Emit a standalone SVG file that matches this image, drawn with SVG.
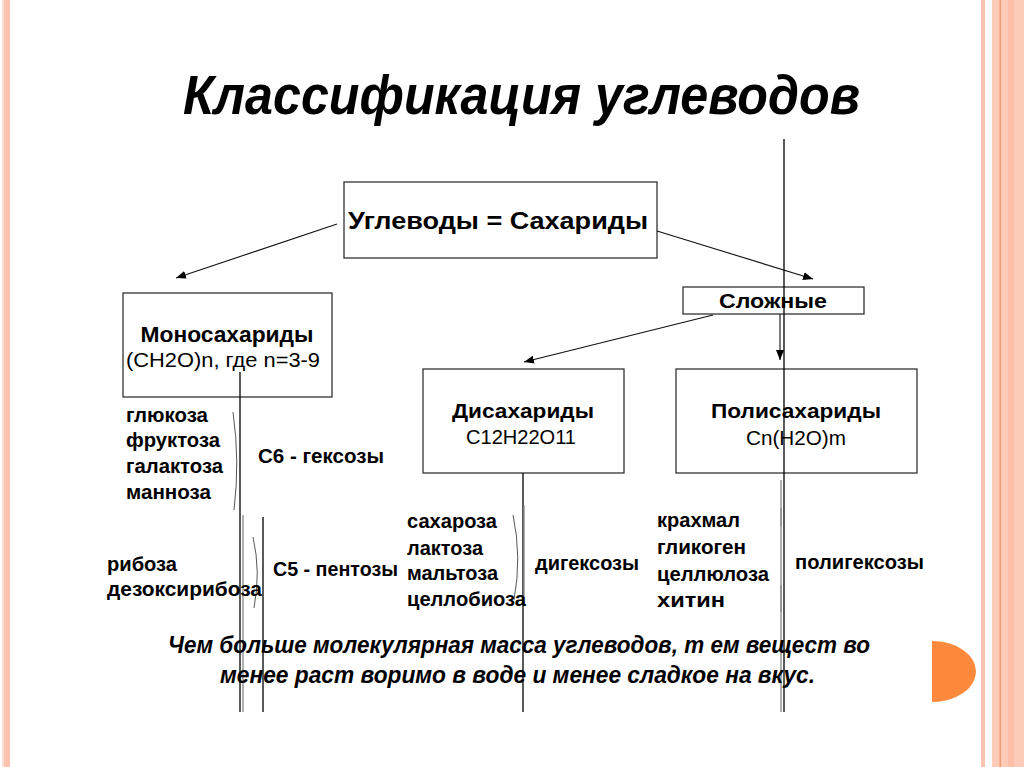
<svg xmlns="http://www.w3.org/2000/svg" width="1024" height="767" viewBox="0 0 1024 767">
<defs>
<marker id="ah" viewBox="0 0 10 10" refX="10" refY="5" markerWidth="10" markerHeight="10" markerUnits="userSpaceOnUse" orient="auto">
<path d="M0,1 L10,5 L0,9 Z" fill="#000"/>
</marker>
<style>
.box{fill:#fff;stroke:#333;stroke-width:1.3}
.t{font-family:"Liberation Sans",Arial,sans-serif;fill:#000}
.b{font-weight:bold}
.c{text-anchor:middle}
.title{font-family:"Liberation Sans",Arial,sans-serif;font-weight:bold;font-style:italic;font-size:56px}
.note{font-family:"Liberation Sans",Arial,sans-serif;font-weight:bold;font-style:italic;font-size:24px}
.arr{stroke:#111;stroke-width:1.1;fill:none;marker-end:url(#ah)}
.ln{stroke:#000;stroke-width:1.3;fill:none}
.gl{stroke:#888;stroke-width:1.3;fill:none}
.br{stroke:#444;stroke-width:0.9;fill:none}
</style>
</defs>
<rect width="1024" height="767" fill="#fff"/>
<!-- borders -->
<rect x="2" y="0" width="2" height="767" fill="#fde3da"/>
<rect x="4" y="0" width="6" height="767" fill="#fcc4b0"/>
<rect x="981" y="0" width="4" height="767" fill="#fcc4b0"/>
<rect x="992" y="0" width="32" height="767" fill="#fdccb8"/>
<rect x="999.5" y="0" width="1.5" height="767" fill="#f19a6e"/>
<rect x="1008" y="0" width="6" height="767" fill="#fcc0a8"/>
<path d="M932,641 A44,30.5 0 0 1 932,702 Z" fill="#fd8a3c"/>

<text class="title" x="183" y="114" textLength="677" lengthAdjust="spacingAndGlyphs">Классификация углеводов</text>

<g id="root">
<rect class="box" x="344" y="182" width="313" height="76"/>
<text class="t b c" x="498" y="229" font-size="24" textLength="300" lengthAdjust="spacingAndGlyphs">Углеводы = Сахариды</text>
</g>
<g id="mono">
<rect class="box" x="123" y="293" width="209" height="104"/>
<text class="t b c" x="227" y="342" font-size="22" textLength="173" lengthAdjust="spacingAndGlyphs">Моносахариды</text>
<text class="t c" x="223" y="367" font-size="21" textLength="194" lengthAdjust="spacingAndGlyphs">(CH2O)n, где n=3-9</text>
</g>
<g id="complex">
<rect class="box" x="683" y="287" width="181" height="27"/>
<text class="t b c" x="773" y="308" font-size="21" textLength="108" lengthAdjust="spacingAndGlyphs">Сложные</text>
</g>
<g id="di">
<rect class="box" x="423" y="369" width="201" height="104"/>
<text class="t b c" x="523" y="418" font-size="21" textLength="142" lengthAdjust="spacingAndGlyphs">Дисахариды</text>
<text class="t c" x="521" y="444" font-size="20" textLength="110" lengthAdjust="spacingAndGlyphs">C12H22O11</text>
</g>
<g id="poly">
<rect class="box" x="676" y="369" width="241" height="104"/>
<text class="t b c" x="796" y="418" font-size="21" textLength="170" lengthAdjust="spacingAndGlyphs">Полисахариды</text>
<text class="t c" x="796" y="445" font-size="20" textLength="100" lengthAdjust="spacingAndGlyphs">Cn(H2O)m</text>
</g>

<g id="connectors">
<line class="arr" x1="337" y1="224" x2="176" y2="278"/>
<line class="arr" x1="657" y1="231" x2="813" y2="279"/>
<line class="arr" x1="713" y1="315" x2="524" y2="362"/>
<line class="arr" x1="780" y1="314" x2="780" y2="360"/>
<!-- vertical lines -->
<line class="ln" x1="784" y1="139" x2="784" y2="712"/>
<line class="gl" x1="781" y1="480" x2="781" y2="712"/>
<line class="gl" x1="781" y1="508" x2="781" y2="526" stroke-width="2.5"/>
<line class="gl" x1="781" y1="585" x2="781" y2="612" stroke-width="2.5"/>
<line class="ln" x1="240" y1="372" x2="240" y2="712"/>
<line class="gl" x1="243" y1="515" x2="243" y2="712"/>
<line class="ln" x1="263" y1="517" x2="263" y2="712"/>
<line class="ln" x1="523" y1="473" x2="523" y2="712"/>
<line class="gl" x1="524" y1="505" x2="524" y2="605" stroke-width="2"/>
<path class="br" d="M233,412 Q240,461 234,510"/>
<path class="br" d="M253,537 Q261,572 254,608"/>
<path class="br" d="M513,515 Q522,557 514,600"/>
</g>

<g id="lists">
<text class="t b" x="126" y="422" font-size="20" textLength="82" lengthAdjust="spacingAndGlyphs">глюкоза</text>
<text class="t b" x="126" y="447" font-size="20" textLength="94" lengthAdjust="spacingAndGlyphs">фруктоза</text>
<text class="t b" x="126" y="473" font-size="20" textLength="97" lengthAdjust="spacingAndGlyphs">галактоза</text>
<text class="t b" x="126" y="499" font-size="20" textLength="85" lengthAdjust="spacingAndGlyphs">манноза</text>
<text class="t b" x="258" y="463" font-size="20" textLength="126" lengthAdjust="spacingAndGlyphs">C6 - гексозы</text>
<text class="t b" x="107" y="571" font-size="20" textLength="70" lengthAdjust="spacingAndGlyphs">рибоза</text>
<text class="t b" x="107" y="596" font-size="20" textLength="155" lengthAdjust="spacingAndGlyphs">дезоксирибоза</text>
<text class="t b" x="273" y="576" font-size="20" textLength="125" lengthAdjust="spacingAndGlyphs">C5 - пентозы</text>
<text class="t b" x="407" y="528" font-size="20" textLength="90" lengthAdjust="spacingAndGlyphs">сахароза</text>
<text class="t b" x="407" y="555" font-size="20" textLength="76" lengthAdjust="spacingAndGlyphs">лактоза</text>
<text class="t b" x="407" y="580" font-size="20" textLength="91" lengthAdjust="spacingAndGlyphs">мальтоза</text>
<text class="t b" x="407" y="606" font-size="20" textLength="119" lengthAdjust="spacingAndGlyphs">целлобиоза</text>
<text class="t b" x="535" y="570" font-size="20" textLength="104" lengthAdjust="spacingAndGlyphs">дигексозы</text>
<text class="t b" x="657" y="527" font-size="20" textLength="83" lengthAdjust="spacingAndGlyphs">крахмал</text>
<text class="t b" x="657" y="554" font-size="20" textLength="89" lengthAdjust="spacingAndGlyphs">гликоген</text>
<text class="t b" x="657" y="581" font-size="20" textLength="112" lengthAdjust="spacingAndGlyphs">целлюлоза</text>
<text class="t b" x="657" y="607" font-size="20" textLength="68" lengthAdjust="spacingAndGlyphs">хитин</text>
<text class="t b" x="795" y="569" font-size="20" textLength="129" lengthAdjust="spacingAndGlyphs">полигексозы</text>
</g>

<g id="note">
<text class="note" x="168" y="653" textLength="702" lengthAdjust="spacingAndGlyphs">Чем больше молекулярная масса углеводов, т ем вещест во</text>
<text class="note" x="220" y="683" textLength="595" lengthAdjust="spacingAndGlyphs">менее раст воримо в воде и менее сладкое на вкус.</text>
</g>
</svg>
